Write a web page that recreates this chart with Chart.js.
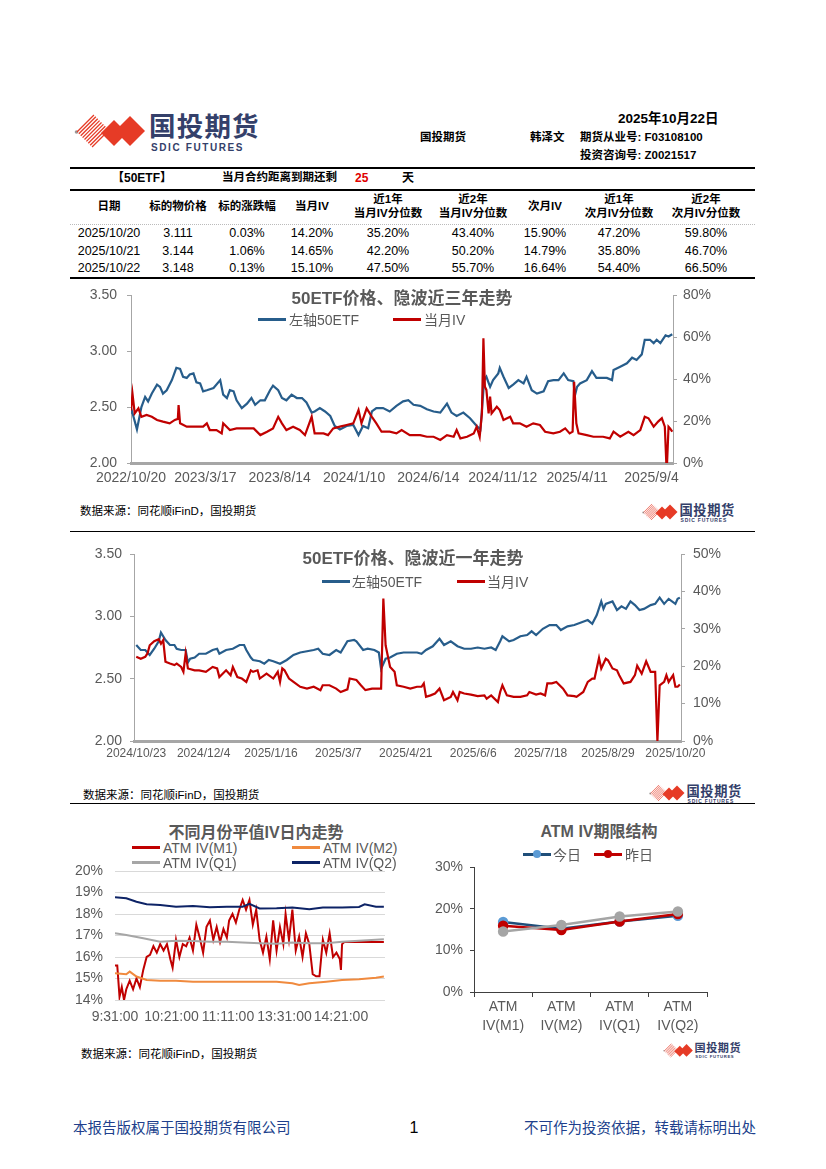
<!DOCTYPE html>
<html lang="zh-CN">
<head>
<meta charset="UTF-8">
<title>50ETF期权日报</title>
<script src="https://cdn.jsdelivr.net/npm/chart.js"></script>
<style>
    body { margin: 0; background: #fff; font-family: "Liberation Sans", "Noto Sans CJK SC", sans-serif; }
    #page { position: relative; width: 826px; height: 1169px; overflow: hidden; background: #fff; }
    .t { position: absolute; white-space: nowrap; z-index: 2; line-height: 1; }
    .c { transform: translate(-50%, -50%); }
    .l { transform: translateY(-50%); }
    .r { transform: translate(-100%, -50%); }
    .hr { position: absolute; left: 70px; width: 685px; background: #000; }
    canvas { position: absolute; z-index: 1; }
    .title { font-weight: bold; color: #595959; }
    .leg { color: #595959; font-size: 14px; }
    .sw { position: absolute; height: 3px; z-index: 2; }
    .dot { position: absolute; width: 8px; height: 8px; border-radius: 50%; z-index: 3; }
    .src { font-size: 11.5px; color: #000; }
    .b { font-weight: bold; }
    .logo-cn { font-weight: bold; color: #34406a; }
    .logo-en { font-weight: bold; color: #34406a; }
</style>
</head>
<body>
<div id="page">
    <!-- header -->
    <div id="bigLogo"></div>
    <div class="t l b" style="left:618px;top:119px;font-size:13.5px;">2025年10月22日</div>
    <div class="t l b" style="left:420px;top:138px;font-size:11.5px;">国投期货</div>
    <div class="t l b" style="left:530px;top:138px;font-size:11.5px;">韩泽文</div>
    <div class="t l b" style="left:580px;top:138px;font-size:11.5px;">期货从业号: F03108100</div>
    <div class="t l b" style="left:580px;top:156px;font-size:11.5px;">投资咨询号: Z0021517</div>
    <div class="hr" style="top:167px;height:2px;"></div>
    <div class="t l b" style="left:112px;top:178px;font-size:12px;">【50ETF】</div>
    <div class="t l b" style="left:222px;top:178px;font-size:11.5px;">当月合约距离到期还剩</div>
    <div class="t l b" style="left:355px;top:178px;font-size:12px;color:#e00000;">25</div>
    <div class="t l b" style="left:402px;top:178px;font-size:12px;">天</div>
    <div class="hr" style="top:189px;height:2px;"></div>
    <div id="tbl"></div>
    <div style="position:absolute;left:70px;top:224px;width:685px;border-top:1px dotted #bbb;"></div>
    <div class="hr" style="top:277px;height:2px;"></div>

    <!-- chart 1 -->
    <canvas id="c1" width="680" height="205" style="left:70px;top:285px;"></canvas>
    <div class="t c title" style="left:402px;top:298px;font-size:17px;">50ETF价格、隐波近三年走势</div>
    <div class="sw" style="left:258px;top:318px;width:28px;background:#275d8b;"></div>
    <div class="t l leg" style="left:289px;top:320px;">左轴50ETF</div>
    <div class="sw" style="left:393px;top:318px;width:28px;background:#c00000;"></div>
    <div class="t l leg" style="left:424px;top:320px;">当月IV</div>
    <div class="t l src" style="left:80px;top:512px;">数据来源：同花顺iFinD，国投期货</div>
    <div id="logo1"></div>
    <div class="hr" style="top:531px;height:1px;"></div>

    <!-- chart 2 -->
    <canvas id="c2" width="680" height="220" style="left:70px;top:545px;"></canvas>
    <div class="t c title" style="left:413px;top:558px;font-size:17px;">50ETF价格、隐波近一年走势</div>
    <div class="sw" style="left:322px;top:580px;width:28px;background:#275d8b;"></div>
    <div class="t l leg" style="left:352px;top:582px;">左轴50ETF</div>
    <div class="sw" style="left:457px;top:580px;width:28px;background:#c00000;"></div>
    <div class="t l leg" style="left:487px;top:582px;">当月IV</div>
    <div class="t l src" style="left:83px;top:796px;">数据来源：同花顺iFinD，国投期货</div>
    <div id="logo2"></div>
    <div class="hr" style="top:803px;height:1px;"></div>

    <!-- chart 3 -->
    <canvas id="c3" width="330" height="168" style="left:62px;top:862px;"></canvas>
    <div class="t c title" style="left:256px;top:833px;font-size:16px;">不同月份平值IV日内走势</div>
    <div class="sw" style="left:132px;top:846px;width:28px;background:#c00000;"></div>
    <div class="t l leg" style="left:163px;top:848px;">ATM IV(M1)</div>
    <div class="sw" style="left:292px;top:846px;width:28px;background:#f08a3e;"></div>
    <div class="t l leg" style="left:323px;top:848px;">ATM IV(M2)</div>
    <div class="sw" style="left:132px;top:861px;width:28px;background:#a6a6a6;"></div>
    <div class="t l leg" style="left:163px;top:863px;">ATM IV(Q1)</div>
    <div class="sw" style="left:292px;top:861px;width:28px;background:#0d2366;"></div>
    <div class="t l leg" style="left:323px;top:863px;">ATM IV(Q2)</div>
    <div class="t l src" style="left:81px;top:1055px;">数据来源：同花顺iFinD，国投期货</div>

    <!-- chart 4 -->
    <canvas id="c4" width="320" height="183" style="left:410px;top:857px;"></canvas>
    <div class="t c title" style="left:599px;top:832px;font-size:16px;">ATM IV期限结构</div>
    <div class="sw" style="left:523px;top:853px;width:28px;background:#1f4e79;"></div>
    <div class="dot" style="left:533px;top:850px;background:#5b9bd5;"></div>
    <div class="t l leg" style="left:553px;top:855px;">今日</div>
    <div class="sw" style="left:594px;top:853px;width:28px;background:#c00000;"></div>
    <div class="dot" style="left:604px;top:850px;background:#c00000;"></div>
    <div class="t l leg" style="left:625px;top:855px;">昨日</div>
    <div id="logo3"></div>

    <!-- footer -->
    <div class="t l" style="left:73px;top:1128px;font-size:14.5px;color:#203f8c;">本报告版权属于国投期货有限公司</div>
    <div class="t c" style="left:414px;top:1128px;font-size:16px;">1</div>
    <div class="t r" style="left:756px;top:1128px;font-size:14.5px;color:#203f8c;">不可作为投资依据，转载请标明出处</div>
</div>

<script>
// ---- table ----
const tableHead = [['日期'], ['标的物价格'], ['标的涨跌幅'], ['当月IV'], ['近1年', '当月IV分位数'],
    ['近2年', '当月IV分位数'], ['次月IV'], ['近1年', '次月IV分位数'], ['近2年', '次月IV分位数']];
const tableRows = [
    ['2025/10/20', '3.111', '0.03%', '14.20%', '35.20%', '43.40%', '15.90%', '47.20%', '59.80%'],
    ['2025/10/21', '3.144', '1.06%', '14.65%', '42.20%', '50.20%', '14.79%', '35.80%', '46.70%'],
    ['2025/10/22', '3.148', '0.13%', '15.10%', '47.50%', '55.70%', '16.64%', '54.40%', '66.50%']
];

// ---- 50ETF and IV, last three years: [trading day, value] ----
const xTicks3y = ['2022/10/20', '2023/3/17', '2023/8/14', '2024/1/10', '2024/6/14', '2024/11/12', '2025/4/11', '2025/9/4'];
const etf3y = [[0,2.45],[1,2.47],[8,2.30],[14,2.50],[19,2.59],[23,2.55],[28,2.62],[35,2.70],[39,2.68],[43,2.62],[48,2.65],[55,2.74],[61,2.85],[66,2.84],[70,2.77],[75,2.76],[79,2.79],[84,2.80],[88,2.72],[93,2.71],[97,2.64],[102,2.65],[111,2.67],[120,2.74],[124,2.61],[129,2.58],[133,2.65],[138,2.64],[142,2.56],[149,2.49],[156,2.53],[162,2.58],[167,2.52],[174,2.56],[180,2.56],[187,2.65],[191,2.69],[198,2.65],[203,2.58],[209,2.56],[216,2.61],[223,2.58],[230,2.58],[236,2.54],[243,2.45],[247,2.46],[254,2.49],[261,2.46],[268,2.42],[274,2.33],[281,2.30],[290,2.33],[299,2.34],[306,2.25],[312,2.33],[319,2.31],[324,2.46],[330,2.49],[339,2.49],[348,2.46],[357,2.51],[366,2.55],[373,2.56],[380,2.52],[389,2.51],[398,2.48],[407,2.46],[416,2.45],[425,2.53],[431,2.45],[438,2.42],[447,2.45],[456,2.40],[465,2.33],[470,2.30],[472,2.47],[475,2.74],[478,2.77],[483,2.68],[487,2.74],[494,2.80],[496,2.85],[501,2.77],[508,2.67],[514,2.70],[521,2.74],[528,2.71],[532,2.77],[539,2.65],[546,2.62],[555,2.64],[561,2.73],[568,2.74],[575,2.74],[582,2.80],[588,2.74],[595,2.73],[597,2.60],[600,2.68],[604,2.71],[613,2.74],[620,2.82],[626,2.76],[640,2.76],[647,2.74],[649,2.83],[658,2.86],[667,2.89],[674,2.94],[680,2.92],[687,2.97],[691,3.10],[698,3.10],[703,3.07],[707,3.10],[712,3.07],[719,3.14],[723,3.13],[728,3.15]];
const iv3y = [[0,25],[2,33],[5,23.6],[10,26],[14,22],[21,22.9],[28,22],[35,20.5],[43,19.7],[52,18.9],[59,20.5],[63,21],[64,27.6],[66,18.9],[75,17.3],[84,17.3],[97,17.3],[102,18.9],[106,15.7],[115,15.7],[122,14.1],[124,18.9],[133,15.7],[142,16.5],[156,16.5],[165,16.5],[174,13.3],[183,14.9],[191,16.5],[198,22],[203,18.9],[209,15.7],[218,17.3],[227,15.7],[234,13.3],[243,22],[247,14.1],[259,14.1],[265,13.3],[272,16.5],[281,17.3],[290,18.1],[299,18.9],[306,25.2],[310,18.9],[317,26],[324,22],[330,18.9],[337,14.9],[348,14.9],[357,14.1],[364,15.7],[375,13.3],[389,13.3],[398,12.5],[407,12.5],[416,11],[425,13.3],[434,12.5],[438,15.7],[443,11.7],[452,12.5],[461,14.1],[465,17.3],[469,12.5],[472,23.6],[474,59.4],[476,36.3],[478,34.8],[481,23.6],[483,31.6],[485,23.6],[492,26.8],[496,25.2],[501,20.5],[510,22],[514,18.9],[523,18.9],[532,17.3],[541,18.9],[550,18.1],[557,14.9],[568,14.1],[577,14.9],[584,16.5],[590,14.1],[594,14.9],[596,38.7],[599,18.9],[602,14.1],[613,13.3],[622,12.5],[635,12.5],[644,11.7],[649,14.9],[658,12.5],[669,14.9],[676,13.3],[685,15.7],[691,22],[696,21.3],[703,17.3],[709,19.7],[714,21.3],[718,17.3],[720,0],[721,0],[723,17.3],[725,16.5],[728,14.9]];

// ---- 50ETF and IV, last year: [trading day, value] ----
const xTicks1y = ['2024/10/23', '2024/12/4', '2025/1/16', '2025/3/7', '2025/4/21', '2025/6/6', '2025/7/18', '2025/8/29', '2025/10/20'];
const etf1y = [[0,2.77],[2,2.73],[4,2.73],[6,2.69],[8,2.74],[10,2.80],[11,2.87],[13,2.81],[15,2.77],[17,2.77],[18,2.74],[20,2.73],[22,2.73],[23,2.63],[24,2.66],[26,2.67],[28,2.70],[31,2.70],[34,2.73],[36,2.74],[37,2.70],[40,2.73],[43,2.74],[46,2.77],[48,2.77],[49,2.73],[51,2.67],[52,2.65],[55,2.64],[57,2.62],[59,2.65],[61,2.64],[64,2.62],[67,2.65],[70,2.69],[73,2.71],[76,2.72],[79,2.73],[81,2.74],[83,2.70],[86,2.69],[89,2.73],[91,2.71],[94,2.80],[97,2.81],[98,2.80],[101,2.73],[103,2.74],[106,2.73],[108,2.71],[109,2.58],[111,2.66],[113,2.67],[116,2.70],[119,2.71],[122,2.71],[125,2.71],[127,2.70],[129,2.73],[132,2.76],[135,2.82],[137,2.77],[140,2.80],[143,2.76],[146,2.74],[149,2.74],[152,2.75],[155,2.74],[158,2.75],[160,2.73],[162,2.80],[163,2.84],[166,2.80],[168,2.81],[171,2.84],[174,2.85],[176,2.88],[178,2.85],[181,2.90],[184,2.93],[187,2.93],[189,2.89],[192,2.92],[195,2.93],[198,2.95],[201,2.97],[203,2.94],[205,3.01],[207,3.12],[208,3.06],[209,3.10],[212,3.12],[214,3.05],[216,3.08],[218,3.06],[220,3.12],[222,3.09],[224,3.05],[226,3.06],[229,3.09],[231,3.10],[233,3.15],[235,3.10],[237,3.14],[240,3.10],[241,3.14],[242,3.15]];
const iv1y = [[0,22.5],[2,22],[4,22.5],[5,23.4],[6,25.6],[8,26.7],[10,27.2],[11,26],[12,27],[13,21.2],[15,20.7],[17,20.3],[18,20.7],[20,19.8],[21,18.5],[22,23.4],[23,19.4],[26,18.9],[28,18.9],[31,18.5],[34,19.8],[36,19.4],[37,17.1],[40,18.9],[42,17.6],[43,19.8],[45,17.1],[47,16.7],[49,15.8],[51,18.9],[52,18.5],[54,18.9],[55,16.7],[58,18],[61,16.7],[63,18.5],[64,15.8],[65,19.4],[66,18.9],[68,16.7],[70,15.8],[73,14.5],[76,14],[79,14.5],[82,13.6],[83,14.9],[86,14.9],[89,14],[91,13.1],[94,13.8],[95,16.7],[98,16.3],[100,14.9],[102,13.6],[105,14],[109,14],[110,38.1],[111,25.6],[113,19.8],[115,18.5],[116,14.9],[119,14.5],[122,14],[125,14.5],[127,14.5],[128,15.4],[129,11.8],[131,12.2],[133,12.7],[135,14],[137,10.9],[140,11.8],[141,13.1],[143,10.9],[144,13.1],[146,12.7],[149,12.4],[152,12],[155,12.2],[156,11.3],[158,12.2],[161,10.4],[162,13.1],[163,14.9],[165,12.2],[168,11.8],[171,11.8],[174,12.2],[175,13.1],[178,12.4],[180,12.7],[182,12.2],[183,15.4],[185,15.4],[187,15.8],[190,14],[192,12.2],[195,12],[196,11.8],[199,13.1],[201,15.8],[203,16.7],[204,16.7],[206,22.2],[207,19.4],[209,22],[210,21.6],[212,19.4],[214,18.9],[215,17.6],[217,15.4],[220,15.8],[222,17.6],[223,20.1],[225,18],[227,21.3],[229,18.5],[231,18.5],[232,0],[233,14.9],[235,15.8],[236,17.6],[237,15.8],[239,17.6],[240,14.5],[241,14.5],[242,15.1]];

// ---- intraday ATM IV: [minute, %] ----
const xTicksDay = ['9:31:00', '10:21:00', '11:11:00', '13:31:00', '14:21:00'];
const ivM1 = [[0,15.6],[2,15.6],[4,14.15],[6,14.6],[8,14.0],[10,14.5],[13,14.9],[16,14.5],[19,15.0],[22,14.6],[25,15.4],[28,16.0],[31,16.1],[34,16.5],[37,16.2],[40,16.6],[43,16.3],[46,16.6],[49,15.9],[51,15.5],[54,16.8],[57,16.0],[60,16.6],[63,16.5],[66,16.9],[69,16.3],[72,17.5],[75,16.9],[78,16.2],[81,17.4],[84,17.7],[87,16.8],[90,17.4],[93,16.7],[96,17.3],[99,16.9],[101,17.7],[104,18.0],[107,17.6],[110,18.2],[113,18.65],[116,18.2],[119,18.65],[122,17.5],[125,18.2],[128,16.8],[131,16.2],[134,16.95],[137,15.9],[140,17.7],[143,16.3],[146,17.4],[149,16.6],[151,18.0],[154,16.8],[157,18.2],[160,16.3],[163,16.95],[166,16.0],[169,17.1],[172,16.6],[175,15.2],[178,15.1],[181,15.1],[184,16.8],[187,16.2],[190,17.1],[193,16.0],[196,16.2],[199,15.9],[200,15.4],[201,16.6],[203,16.7],[216,16.7],[238,16.7]];
const ivM2 = [[0,15.24],[10,15.2],[13,15.32],[19,15.09],[28,14.93],[40,14.9],[54,14.9],[69,14.85],[84,14.85],[99,14.85],[113,14.85],[128,14.85],[143,14.85],[157,14.78],[163,14.7],[172,14.78],[187,14.85],[201,14.93],[216,14.96],[231,15.04],[238,15.09]];
const ivQ1 = [[0,17.1],[10,17.02],[25,16.87],[40,16.71],[54,16.76],[69,16.74],[84,16.71],[99,16.71],[113,16.67],[128,16.64],[143,16.62],[157,16.67],[172,16.64],[187,16.64],[201,16.71],[216,16.76],[238,16.82]];
const ivQ2 = [[0,18.78],[10,18.73],[19,18.57],[28,18.45],[40,18.42],[54,18.34],[69,18.37],[84,18.31],[99,18.34],[113,18.34],[119,18.47],[128,18.26],[143,18.27],[157,18.3],[172,18.22],[184,18.3],[201,18.3],[216,18.33],[221,18.45],[231,18.34],[238,18.34]];

// ---- term structure ----
const termCats = ['ATM IV(M1)', 'ATM IV(M2)', 'ATM IV(Q1)', 'ATM IV(Q2)'];
const termToday = [16.8, 15.2, 16.9, 18.3];
const termYesterday = [15.9, 14.9, 16.9, 18.7];
const termPrior = [14.5, 16.1, 18.1, 19.3];

const BLUE = '#275d8b', RED = '#c00000', AXIS = '#a6a6a6';

// table cells
const colX = [109, 178, 247, 312, 388, 473, 545, 619, 706];
const tbl = document.getElementById('tbl');
function cell(text, x, y, cls, size) {
    const d = document.createElement('div');
    d.className = 't c ' + cls;
    d.style.left = x + 'px'; d.style.top = y + 'px'; d.style.fontSize = size + 'px';
    d.textContent = text;
    tbl.appendChild(d);
}
tableHead.forEach((h, i) => {
    if (h.length === 1) cell(h[0], colX[i], 207, 'b', 11.5);
    else { cell(h[0], colX[i], 200, 'b', 11.5); cell(h[1], colX[i], 214, 'b', 11.5); }
});
tableRows.forEach((row, r) => row.forEach((v, i) => cell(v, colX[i], 233 + r * 17.6, '', 12.5)));

// logos
function logo(id, x, y, s) {
    let lines = '';
    const cx = 19, cy = 20, h = 17;
    for (let k = 0; k < 9; k++) {
        const t = (k + 0.5) / 9;
        lines += `<line x1="${cx - h + t * h}" y1="${cy + t * h}" x2="${cx + t * h}" y2="${cy - h + t * h}" stroke="#e63b26" stroke-width="1.3"/>`;
    }
    const svg = `<svg width="${72 * s}" height="${40 * s}" viewBox="0 0 72 40" style="position:absolute;left:0;top:0">
        <circle cx="2.5" cy="21" r="1.8" fill="#999"/>${lines}
        <polygon points="27,22 40,9 53,22 40,35" fill="#e63b26"/>
        <polygon points="41,20 56,5 71,20 56,35" fill="#e63b26"/></svg>`;
    const el = document.getElementById(id);
    el.style.cssText = `position:absolute;left:${x}px;top:${y}px;z-index:2;`;
    el.innerHTML = svg +
        `<div class="t logo-cn" style="left:${75 * s}px;top:${3 * s}px;font-size:${26.5 * s}px;letter-spacing:${1.2 * s}px;">国投期货</div>` +
        `<div class="t logo-en" style="left:${77 * s}px;top:${32 * s}px;font-size:${10 * s}px;letter-spacing:${1.6 * s}px;">SDIC FUTURES</div>`;
}
logo('bigLogo', 74, 111, 1);
logo('logo1', 642, 502, 0.5);
logo('logo2', 649, 783, 0.5);
logo('logo3', 663, 1042, 0.42);

// charts
Chart.defaults.font.family = '"Liberation Sans", "Noto Sans CJK SC", sans-serif';
Chart.defaults.color = '#595959';
const toXY = a => a.map(p => ({ x: p[0], y: p[1] }));
// fixed axis sizes; drop the label overhang padding so layout.padding sets the plot top
const fixW = w => s => { s.width = w; s.paddingTop = 0; s.paddingBottom = 0; };
const fixH = h => s => { s.height = h; };
const base = { responsive: false, animation: false, events: [], plugins: { legend: { display: false }, tooltip: { enabled: false } } };
const line = (label, data, color, axis, order, width) => ({
    label, data: toXY(data), yAxisID: axis, borderColor: color, backgroundColor: color,
    borderWidth: width || 2.2, pointRadius: 0, tension: 0, order
});

function priceChart(id, etf, iv, ticks, xr, step, ivMax, ivStep, dims, xFont) {
    new Chart(document.getElementById(id), {
        type: 'line',
        data: { datasets: [line('左轴50ETF', etf, BLUE, 'y', 1), line('当月IV', iv, RED, 'y1', 0)] },
        options: {
            ...base,
            layout: { padding: { top: dims.top } },
            scales: {
                x: {
                    type: 'linear', min: xr[0], max: xr[1], afterFit: fixH(dims.xh),
                    grid: { display: false, drawTicks: false }, border: { color: AXIS, width: 3 },
                    ticks: { stepSize: step, includeBounds: false, autoSkip: false, maxRotation: 0, padding: dims.xpad,
                        font: { size: xFont }, callback: v => ticks[v / step] ?? '' }
                },
                y: {
                    position: 'left', min: 2, max: 3.5, afterFit: fixW(dims.lw),
                    grid: { drawOnChartArea: false, tickLength: 4, color: AXIS }, border: { color: AXIS },
                    ticks: { stepSize: 0.5, autoSkip: false, padding: dims.lpad, font: { size: 14 }, callback: v => v.toFixed(2) }
                },
                y1: {
                    position: 'right', min: 0, max: ivMax, afterFit: fixW(dims.rw),
                    grid: { drawOnChartArea: false, tickLength: 4, color: AXIS }, border: { color: AXIS },
                    ticks: { stepSize: ivStep, autoSkip: false, padding: dims.rpad, font: { size: 14 }, callback: v => v + '%' }
                }
            }
        }
    });
}
priceChart('c1', etf3y, iv3y, xTicks3y, [0, 729], 100, 80, 20,
    { top: 10, xh: 27, xpad: 7, lw: 61, rw: 77, lpad: 10, rpad: 6 }, 14);
priceChart('c2', etf1y, iv1y, xTicks1y, [-1, 242.5], 30, 50, 10,
    { top: 9, xh: 24, xpad: 5, lw: 64, rw: 69, lpad: 8, rpad: 8 }, 12);

new Chart(document.getElementById('c3'), {
    type: 'line',
    data: { datasets: [
        line('ATM IV(M1)', ivM1, '#c00000', 'y', 4, 2),
        line('ATM IV(M2)', ivM2, '#f08a3e', 'y', 3, 2),
        line('ATM IV(Q1)', ivQ1, '#a6a6a6', 'y', 2, 2),
        line('ATM IV(Q2)', ivQ2, '#0d2366', 'y', 1, 2)
    ] },
    options: {
        ...base,
        layout: { padding: { top: 9, right: 7 } },
        scales: {
            x: {
                type: 'linear', min: 0, max: 239, afterFit: fixH(30),
                grid: { display: false, drawTicks: false }, border: { display: false },
                ticks: { stepSize: 50, includeBounds: false, autoSkip: false, maxRotation: 0, padding: 9,
                    font: { size: 14 }, callback: v => xTicksDay[v / 50] ?? '' }
            },
            y: {
                min: 14, max: 20, afterFit: fixW(53),
                grid: { color: '#d9d9d9', drawTicks: false }, border: { display: false },
                ticks: { stepSize: 1, autoSkip: false, padding: 12, font: { size: 14 }, callback: v => v + '%' }
            }
        }
    }
});

const pts = (label, data, line, fill, order) => ({
    label, data, borderColor: line, backgroundColor: fill, pointBackgroundColor: fill, pointBorderColor: fill,
    borderWidth: 2.5, pointRadius: 4, tension: 0, order
});
new Chart(document.getElementById('c4'), {
    type: 'line',
    data: {
        labels: termCats.map(c => c.split(' ')),
        datasets: [
            pts('今日', termToday, '#1f4e79', '#5b9bd5', 2),
            pts('昨日', termYesterday, '#c00000', '#c00000', 1),
            pts('前日', termPrior, '#a5a5a5', '#a5a5a5', 0)
        ]
    },
    options: {
        ...base,
        layout: { padding: { top: 10, right: 23 } },
        scales: {
            x: {
                offset: true, afterFit: fixH(48),
                grid: { offset: true, drawOnChartArea: false, tickLength: 5, color: '#404040' }, border: { color: '#404040' },
                ticks: { padding: 1, font: { size: 14, lineHeight: 1.35 }, maxRotation: 0 }
            },
            y: {
                min: 0, max: 30, afterFit: fixW(64),
                grid: { drawOnChartArea: false, tickLength: 4, color: '#404040' }, border: { color: '#404040' },
                ticks: { stepSize: 10, autoSkip: false, padding: 7, font: { size: 14 }, callback: v => v + '%' }
            }
        }
    }
});
</script>
</body>
</html>
